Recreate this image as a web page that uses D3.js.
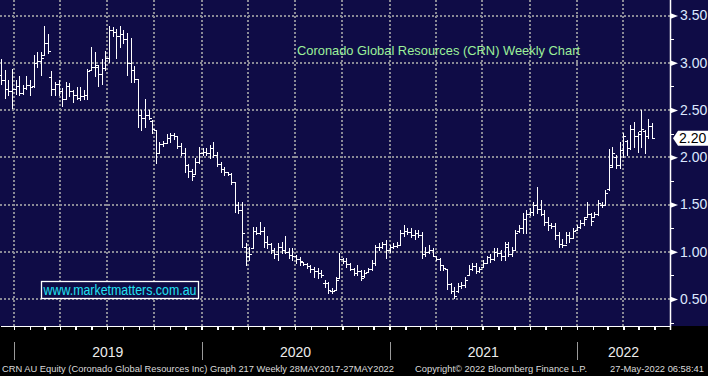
<!DOCTYPE html>
<html>
<head>
<meta charset="utf-8">
<script src="https://cdn.jsdelivr.net/npm/d3@7"></script>
<style>
  body { margin: 0; background: #000; }
  svg { display: block; }
</style>
</head>
<body>
<div id="chart"></div>
<script>
// weekly bars, CRN AU, 7 Dec 2018 .. 27 May 2022
const opens = [
  2.87,2.82,2.72,2.70,2.72,2.75,2.68,2.73,2.76,2.75,3.00,3.02,3.08,3.21,2.85,2.72,2.78,2.70,2.62,2.75,
  2.70,2.66,2.63,2.65,2.66,2.92,2.95,2.96,2.88,2.94,3.05,3.35,3.33,3.28,3.30,3.25,3.00,2.92,2.83,2.45,
  2.42,2.45,2.38,2.29,2.04,2.14,2.15,2.20,2.24,2.22,2.12,2.05,1.92,1.85,1.82,1.95,2.05,2.06,2.05,2.10,
  2.02,1.93,1.88,1.84,1.82,1.74,1.50,1.44,1.05,0.95,1.04,1.22,1.20,1.22,1.10,1.08,1.02,0.98,1.05,1.02,
  1.00,0.97,0.95,0.92,0.89,0.87,0.85,0.82,0.80,0.78,0.67,0.67,0.58,0.60,0.72,0.92,0.90,0.87,0.82,0.78,
  0.80,0.74,0.79,0.82,0.88,1.05,1.05,1.08,1.02,1.05,1.06,1.07,1.20,1.22,1.21,1.18,1.20,1.18,0.98,1.00,
  1.02,0.96,0.92,0.86,0.82,0.66,0.58,0.58,0.64,0.65,0.75,0.82,0.85,0.80,0.84,0.88,0.94,0.92,1.00,0.99,
  0.95,1.05,0.98,1.02,1.22,1.25,1.35,1.40,1.42,1.50,1.45,1.40,1.32,1.28,1.27,1.18,1.08,1.07,1.18,1.15,
  1.23,1.26,1.30,1.37,1.40,1.37,1.40,1.50,1.50,1.66,1.92,2.00,1.92,2.08,2.17,2.10,2.30,2.22,2.28,2.28,
  2.22,2.33
];
const highs = [
  3.04,2.92,2.82,2.93,2.82,2.86,2.76,2.86,2.82,3.08,3.11,3.11,3.39,3.30,2.91,2.80,2.82,2.73,2.80,2.79,
  2.71,2.74,2.74,2.71,2.93,3.17,3.11,2.98,3.04,3.12,3.39,3.38,3.36,3.39,3.35,3.31,3.26,2.97,2.83,2.50,
  2.62,2.50,2.39,2.29,2.16,2.17,2.25,2.26,2.26,2.23,2.15,2.10,1.93,1.88,1.99,2.11,2.10,2.10,2.13,2.16,
  2.06,1.95,1.90,1.84,1.83,1.74,1.53,1.53,1.09,1.05,1.26,1.26,1.31,1.26,1.17,1.09,1.04,1.09,1.10,1.17,
  1.04,1.04,0.97,0.94,0.89,0.88,0.86,0.84,0.83,0.81,0.70,0.68,0.62,0.73,0.99,0.93,0.93,0.88,0.83,0.86,
  0.81,0.81,0.83,0.91,1.07,1.09,1.10,1.12,1.07,1.09,1.10,1.23,1.28,1.25,1.25,1.23,1.23,1.21,1.05,1.07,
  1.04,0.96,0.93,0.86,0.82,0.67,0.63,0.67,0.68,0.73,0.86,0.88,0.88,0.84,0.91,0.96,0.98,1.04,1.04,1.02,
  1.10,1.10,1.05,1.23,1.28,1.41,1.44,1.46,1.53,1.69,1.55,1.44,1.37,1.30,1.30,1.21,1.14,1.21,1.21,1.25,
  1.28,1.34,1.37,1.53,1.41,1.42,1.55,1.53,1.65,2.09,2.11,2.02,2.16,2.26,2.18,2.34,2.37,2.27,2.50,2.29,
  2.40,2.36
];
const lows = [
  2.78,2.63,2.66,2.52,2.67,2.66,2.67,2.72,2.66,2.74,2.96,2.87,3.08,3.10,2.66,2.66,2.66,2.54,2.62,2.65,
  2.58,2.62,2.61,2.62,2.62,2.92,2.86,2.75,2.78,2.92,3.01,3.28,3.05,3.17,3.21,2.87,2.80,2.80,2.32,2.29,
  2.32,2.40,2.26,1.94,2.04,2.12,2.15,2.16,2.19,2.10,2.02,1.84,1.79,1.76,1.83,1.94,2.02,2.02,1.99,2.00,
  1.91,1.84,1.81,1.81,1.72,1.42,1.41,1.05,0.86,0.91,1.04,1.19,1.19,1.05,1.04,0.99,0.93,0.91,0.99,0.99,
  0.93,0.91,0.88,0.86,0.86,0.83,0.79,0.73,0.72,0.73,0.63,0.56,0.56,0.60,0.72,0.88,0.84,0.81,0.75,0.75,
  0.70,0.73,0.79,0.81,0.86,1.02,1.04,0.93,1.00,1.04,1.05,1.07,1.17,1.19,1.16,1.14,1.16,0.93,0.95,0.99,
  0.95,0.91,0.81,0.81,0.61,0.56,0.51,0.57,0.62,0.63,0.75,0.81,0.77,0.79,0.84,0.88,0.89,0.91,0.96,0.91,
  0.91,0.95,0.96,1.02,1.21,1.20,1.20,1.39,1.39,1.41,1.39,1.28,1.23,1.25,1.14,1.05,1.05,1.09,1.10,1.16,
  1.23,1.25,1.28,1.37,1.28,1.37,1.39,1.47,1.49,1.65,1.90,1.89,1.89,2.00,2.02,2.09,2.11,2.06,2.11,2.04,
  2.20,2.20
];
const closes = [
  2.82,2.72,2.70,2.72,2.75,2.68,2.73,2.76,2.74,3.00,3.02,3.05,3.21,3.12,2.72,2.78,2.70,2.62,2.75,2.70,
  2.66,2.63,2.65,2.66,2.91,2.95,2.98,2.88,2.94,3.05,3.35,3.33,3.28,3.30,3.25,3.00,2.92,2.83,2.45,2.42,
  2.45,2.42,2.30,2.04,2.14,2.15,2.20,2.24,2.22,2.12,2.05,1.92,1.85,1.80,1.95,2.05,2.06,2.05,2.10,2.02,
  1.93,1.88,1.84,1.82,1.74,1.50,1.44,1.20,0.95,0.98,1.22,1.20,1.22,1.10,1.08,1.02,0.98,1.05,1.02,1.00,
  0.97,0.95,0.92,0.90,0.87,0.85,0.82,0.80,0.78,0.75,0.67,0.60,0.58,0.70,0.92,0.90,0.87,0.82,0.78,0.80,
  0.72,0.78,0.82,0.88,1.05,1.05,1.08,1.02,1.05,1.06,1.07,1.20,1.22,1.21,1.18,1.20,1.18,0.98,1.00,1.02,
  0.96,0.92,0.86,0.83,0.66,0.58,0.53,0.64,0.65,0.70,0.82,0.85,0.80,0.82,0.88,0.94,0.92,1.00,0.99,0.95,
  1.08,0.98,1.02,1.20,1.25,1.35,1.40,1.42,1.50,1.45,1.40,1.32,1.28,1.27,1.18,1.08,1.07,1.18,1.15,1.22,
  1.26,1.30,1.35,1.40,1.33,1.40,1.52,1.49,1.62,1.90,2.05,1.92,2.08,2.22,2.10,2.30,2.22,2.25,2.30,2.22,
  2.33,2.20
];

const priceTicks = [0.5, 1.0, 1.5, 2.0, 2.5, 3.0, 3.5];
const minorTicks = [0.25, 0.75, 1.25, 1.75, 2.25, 2.75, 3.25];
const years = [2019, 2020, 2021, 2022];
const lastPrice = 2.20;
const chartTitle = "Coronado Global Resources (CRN) Weekly Chart";
const watermark = "www.marketmatters.com.au";
const footLeft = "CRN AU Equity (Coronado Global Resources Inc) Graph 217  Weekly 28MAY2017-27MAY2022";
const footMid = "Copyright\u00A9 2022 Bloomberg Finance L.P.";
const footRight = "27-May-2022 06:58:41";

const width = 708;
const height = 376;
const plotRight = 670;
const plotBottom = 326;
const navy = "#0f0c46";
const gridColor = "#8a8a96";

const weeks = d3.utcFriday.range(Date.UTC(2018, 11, 7), Date.UTC(2022, 4, 28));
const data = weeks.map((d, i) => ({
    date: d, o: opens[i], h: highs[i], l: lows[i], c: closes[i]
}));

const svg = d3.select("#chart").append("svg")
    .attr("width", width)
    .attr("height", height)
    .style("font-family", "'Liberation Sans', Arial, sans-serif");

svg.append("rect")
    .attr("width", width).attr("height", height)
    .attr("fill", "#000");
svg.append("rect")
    .attr("width", width).attr("height", plotBottom)
    .attr("fill", navy);

const x = d3.scaleUtc()
    .domain([Date.UTC(2018, 11, 4, 18), Date.UTC(2022, 6, 1)])
    .range([0, plotRight]);

const y = d3.scaleLinear()
    .domain([0.5, 3.5])
    .range([299, 15.5]);

const crisp = v => Math.round(v) + 0.5;

// grid
const grid = svg.append("g")
    .attr("stroke", gridColor)
    .attr("stroke-width", 2)
    .attr("stroke-dasharray", "2 2")
    .attr("shape-rendering", "crispEdges");

grid.selectAll(".hgrid")
    .data(priceTicks)
    .enter().append("line")
    .attr("x1", 0).attr("x2", plotRight)
    .attr("y1", d => Math.round(y(d)))
    .attr("y2", d => Math.round(y(d)));

const quarters = d3.utcMonth.every(3).range(x.domain()[0], x.domain()[1]);
grid.selectAll(".vgrid")
    .data(quarters)
    .enter().append("line")
    .attr("x1", d => Math.round(x(d)))
    .attr("x2", d => Math.round(x(d)))
    .attr("y1", 0).attr("y2", plotBottom);

// title
svg.append("text")
    .attr("x", 297)
    .attr("y", 55)
    .attr("textLength", 283)
    .attr("lengthAdjust", "spacingAndGlyphs")
    .style("font-size", "13.5px")
    .attr("fill", "#9cf09a")
    .text(chartTitle);

// watermark box
svg.append("rect")
    .attr("x", 41.5).attr("y", 281.5)
    .attr("width", 157).attr("height", 17)
    .attr("fill", navy)
    .attr("stroke", "#fff")
    .attr("stroke-width", 1.3);
svg.append("text")
    .attr("x", 43.5)
    .attr("y", 295)
    .attr("textLength", 153)
    .attr("lengthAdjust", "spacingAndGlyphs")
    .style("font-size", "14px")
    .attr("fill", "#22e2f2")
    .text(watermark);

// OHLC bars
svg.append("g")
    .selectAll("path")
    .data(data)
    .enter().append("path")
    .attr("d", d => {
        const cx = crisp(x(d.date));
        return `M${cx},${Math.round(y(d.h))}V${Math.round(y(d.l)) + 1}` +
            `M${cx - 2.5},${crisp(y(d.o))}H${cx}` +
            `M${cx},${crisp(y(d.c))}H${cx + 2.5}`;
    })
    .attr("fill", "none")
    .attr("stroke", "#fff")
    .attr("stroke-width", 1)
    .attr("shape-rendering", "crispEdges");

// bottom axis (monthly ticks)
const xAxis = svg.append("g")
    .attr("transform", `translate(0,${plotBottom})`)
    .call(d3.axisBottom(x)
        .ticks(d3.utcMonth.every(1))
        .tickSize(4)
        .tickSizeOuter(0)
        .tickFormat(""));
xAxis.selectAll("path, line")
    .attr("stroke", "#fff")
    .attr("stroke-width", 1.5)
    .attr("shape-rendering", "crispEdges");

// right axis
const yAxis = svg.append("g")
    .attr("transform", `translate(${plotRight},0)`)
    .call(d3.axisRight(y)
        .tickValues(priceTicks)
        .tickSize(0)
        .tickPadding(10)
        .tickFormat(d3.format(".2f")));
yAxis.select(".domain").remove();
yAxis.selectAll("text")
    .attr("fill", "#dce8ff")
    .style("font-size", "14px")
    .style("font-family", "'Liberation Sans', Arial, sans-serif");
yAxis.selectAll(".tick").append("path")
    .attr("d", "M0,-3L8,0L0,3Z")
    .attr("fill", "#fff");

svg.append("g")
    .attr("transform", `translate(${plotRight},0)`)
    .call(d3.axisRight(y)
        .tickValues(minorTicks)
        .tickSize(4)
        .tickFormat(""))
    .call(g => g.select(".domain").remove())
    .selectAll("line")
    .attr("stroke", "#fff")
    .attr("shape-rendering", "crispEdges");

svg.append("line")
    .attr("x1", plotRight + 0.5).attr("x2", plotRight + 0.5)
    .attr("y1", 0).attr("y2", plotBottom + 4)
    .attr("stroke", "#fff")
    .attr("stroke-width", 1.5);

// last price flag
const ly = y(lastPrice);
svg.append("path")
    .attr("d", `M${plotRight + 3},${ly}L${plotRight + 8},${ly - 7.5}H${width}V${ly + 7.5}H${plotRight + 8}Z`)
    .attr("fill", "#fff");
svg.append("text")
    .attr("x", plotRight + 9)
    .attr("y", ly)
    .attr("dy", "0.36em")
    .style("font-size", "14px")
    .attr("fill", "#000")
    .text(d3.format(".2f")(lastPrice));

// year separators and labels
const yearStart = yr => Date.UTC(yr, 0, 1);
svg.append("g")
    .selectAll("line")
    .data(years)
    .enter().append("line")
    .attr("x1", d => crisp(x(yearStart(d))))
    .attr("x2", d => crisp(x(yearStart(d))))
    .attr("y1", 342).attr("y2", 360)
    .attr("stroke", "#9a9a9a");

svg.append("g")
    .selectAll("text")
    .data(years)
    .enter().append("text")
    .attr("x", d => (x(yearStart(d)) + Math.min(x(yearStart(d + 1)), plotRight)) / 2)
    .attr("y", 357)
    .attr("text-anchor", "middle")
    .style("font-size", "14px")
    .attr("fill", "#ececec")
    .text(d => d);

// footer
const foot = svg.append("g")
    .attr("fill", "#dcdcdc");
foot.append("text").attr("x", 2).attr("y", 372)
    .style("font-size", "9.3px")
    .attr("textLength", 392).attr("lengthAdjust", "spacingAndGlyphs").text(footLeft);
foot.append("text").attr("x", 415).attr("y", 372)
    .style("font-size", "9.3px")
    .attr("textLength", 172).attr("lengthAdjust", "spacingAndGlyphs").text(footMid);
foot.append("text").attr("x", 610).attr("y", 372)
    .style("font-size", "8.4px")
    .attr("textLength", 94).attr("lengthAdjust", "spacingAndGlyphs").text(footRight);
</script>
</body>
</html>
